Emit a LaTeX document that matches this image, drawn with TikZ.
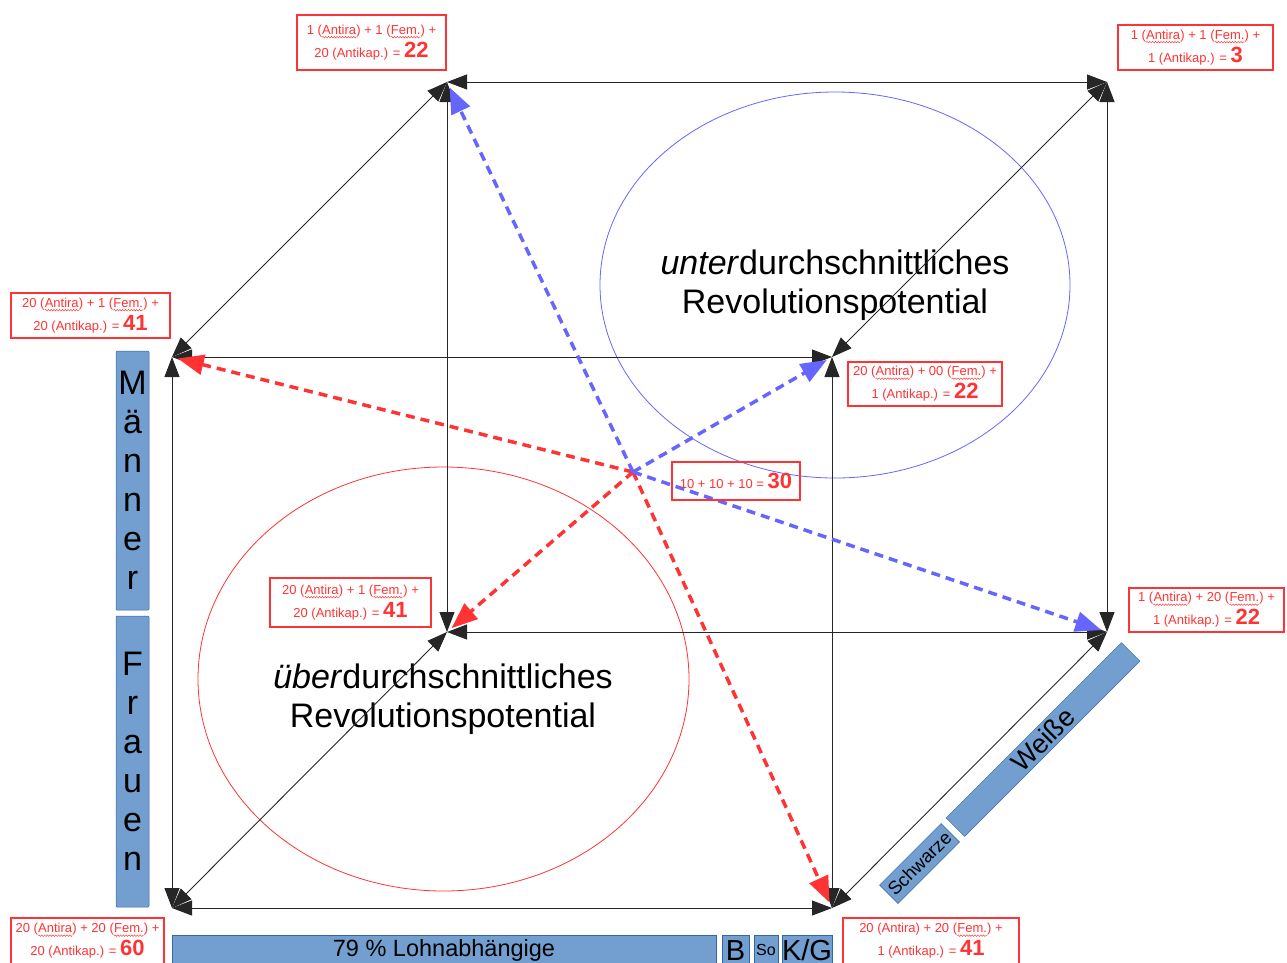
\documentclass[tikz,border=0pt]{standalone}
\usepackage{fontspec}
\setmainfont{Liberation Sans}
\usetikzlibrary{arrows.meta,decorations.pathmorphing}
\definecolor{lred}{HTML}{FF3333}
\definecolor{lblue}{HTML}{6666FF}
\definecolor{barfill}{HTML}{729FCF}
\definecolor{barline}{HTML}{3465A4}
\newcommand{\wv}[1]{\tikz[baseline=(w.base),x=1pt,y=1pt]{\node[inner sep=0pt,outer sep=0pt,
  minimum width=0pt, minimum height=0pt, draw=none, fill=none, rotate=0] (w) {#1};
  \draw[lred, line width=0.45pt, solid, decorate, decoration={snake, amplitude=0.8pt, segment length=2.8pt}]
  ([yshift=-2.8pt]w.base west) -- ([yshift=-2.8pt]w.base east);}}
\newcommand{\bignum}[1]{\textbf{\fontsize{22}{23}\selectfont #1}}
\begin{document}
\begin{tikzpicture}[x=1pt,y=-1pt,
  edge/.style={black!85, line width=0.9pt, {Triangle[length=20pt,width=15pt]}-{Triangle[length=20pt,width=15pt]}},
  redarr/.style={lred, line width=3.5pt, dash pattern=on 9pt off 6pt, -{Triangle[length=26pt,width=20pt]}, shorten >=6pt},
  bluearr/.style={lblue, line width=3.5pt, dash pattern=on 9pt off 6pt, -{Triangle[length=26pt,width=20pt]}, shorten >=6pt},
  labbox/.style={draw=lred, line width=2pt, text=lred, font=\fontsize{13}{23}\selectfont, align=center, inner sep=0pt},
  bar/.style={fill=barfill, draw=barline, line width=0.5pt, inner sep=0pt, text=black},
  bigtext/.style={align=center, font=\fontsize{34}{39}\selectfont}
]
\useasboundingbox (0,0) rectangle (1287,962);

% ellipses and their texts
\draw[lblue, line width=0.8pt] (835,285) ellipse [x radius=235pt, y radius=193pt];
\draw[lred, line width=0.8pt] (443.5,679) ellipse [x radius=245.5pt, y radius=212pt];
\node[bigtext] (unter) at (835,285) {\textit{unter}durchschnittliches\\Revolutionspotential};
\node[bigtext] (ueber) at (443,699) {\textit{über}durchschnittliches\\Revolutionspotential};

% cube vertices
\coordinate (FTL) at (172,357);
\coordinate (FTR) at (832,357);
\coordinate (FBL) at (172,908);
\coordinate (FBR) at (832,908);
\coordinate (BTL) at (447,82);
\coordinate (BTR) at (1107,82);
\coordinate (BBL) at (447,632);
\coordinate (BBR) at (1107,632);
\coordinate (C) at (633,472);

% cube edges
\draw[edge] (FTL) -- (FTR);
\draw[edge] (FBL) -- (FBR);
\draw[edge] (FTL) -- (FBL);
\draw[edge] (FTR) -- (FBR);
\draw[edge] (BTL) -- (BTR);
\draw[edge] (BBL) -- (BBR);
\draw[edge] (BTL) -- (BBL);
\draw[edge] (BTR) -- (BBR);
\draw[edge] (FTL) -- (BTL);
\draw[edge] (FTR) -- (BTR);
\draw[edge] (FBL) -- (BBL);
\draw[edge] (FBR) -- (BBR);

% space diagonals
\draw[redarr] (C) -- (FTL);
\draw[redarr] (C) -- (FBR);
\draw[redarr] (C) -- (BBL);
\draw[bluearr] (C) -- (BTL);
\draw[bluearr] (C) -- (BBR);
\draw[bluearr] (C) -- (FTR);

% label boxes
\node[labbox, minimum width=149pt, minimum height=55pt] (l1) at (371.5,42.5)
  {1 (\wv{Antira}) + 1 (\wv{Fem.}) +\\20 (Antikap.) = \bignum{22}};
\node[labbox, minimum width=155pt, minimum height=45pt] (l2) at (1195.5,47.5)
  {1 (\wv{Antira}) + 1 (\wv{Fem.}) +\\1 (Antikap.) = \bignum{3}};
\node[labbox, minimum width=159pt, minimum height=45pt] (l3) at (90.5,315.5)
  {20 (\wv{Antira}) + 1 (\wv{Fem.}) +\\20 (Antikap.) = \bignum{41}};
\node[labbox, minimum width=154pt, minimum height=44pt] (l4) at (925,384)
  {20 (\wv{Antira}) + 00 (\wv{Fem.}) +\\1 (Antikap.) = \bignum{22}};
\node[labbox, minimum width=128pt, minimum height=38pt] (l5) at (736,481)
  {10 + 10 + 10 = \bignum{30}};
\node[labbox, minimum width=161pt, minimum height=49pt] (l6) at (350.5,602.5)
  {20 (\wv{Antira}) + 1 (\wv{Fem.}) +\\20 (Antikap.) = \bignum{41}};
\node[labbox, minimum width=155pt, minimum height=44pt] (l7) at (1206.5,610)
  {1 (\wv{Antira}) + 20 (\wv{Fem.}) +\\1 (Antikap.) = \bignum{22}};
\node[labbox, minimum width=153pt, minimum height=46pt] (l8) at (87.5,941)
  {20 (\wv{Antira}) + 20 (\wv{Fem.}) +\\20 (Antikap.) = \bignum{60}};
\node[labbox, minimum width=176pt, minimum height=46pt] (l9) at (931,941)
  {20 (Antira) + 20 (\wv{Fem.}) +\\1 (Antikap.) = \bignum{41}};

% blue bars
\node[bar, rounded corners=1pt, minimum width=33pt, minimum height=259pt, align=center,
  font=\fontsize{34}{39}\selectfont] (maenner) at (132.5,480.5) {M\\ä\\n\\n\\e\\r};
\node[bar, rounded corners=1pt, minimum width=33pt, minimum height=291pt, align=center,
  font=\fontsize{34}{39}\selectfont] (frauen) at (132.5,761.5) {F\\r\\a\\u\\e\\n};
\node[bar, anchor=north, minimum width=544pt, minimum height=30pt,
  font=\fontsize{23.5}{26}\selectfont] (lohn) at (444,935) {79 \% Lohnabhängige};
\node[bar, anchor=north, minimum width=27pt, minimum height=30pt,
  font=\fontsize{29}{30}\selectfont] (bb) at (735.5,935) {B};
\node[bar, anchor=north, minimum width=24pt, minimum height=30pt,
  font=\fontsize{16}{18}\selectfont] (so) at (766,935) {So};
\node[bar, anchor=north, minimum width=50pt, minimum height=30pt,
  font=\fontsize{29}{30}\selectfont] (kg) at (807,935) {K/G};
\node[bar, rotate=45, minimum width=248pt, minimum height=26pt,
  font=\fontsize{27}{30}\selectfont] (weisse) at (1043,739.5) {Weiße};
\node[bar, rotate=45, minimum width=87pt, minimum height=26pt,
  font=\fontsize{18.5}{20}\selectfont] (schwarze) at (919.5,863.5) {Schwarze};
\end{tikzpicture}
\end{document}
